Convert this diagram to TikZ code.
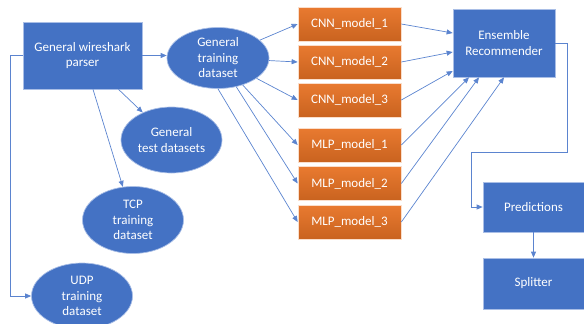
\documentclass[tikz,border=0pt]{standalone}
\usepackage{fontspec}
\setmainfont{Carlito}
\usetikzlibrary{arrows.meta,shapes.geometric}
\definecolor{bl}{HTML}{4472C4}
\definecolor{blline}{HTML}{5B84CF}
\definecolor{blborder}{HTML}{A9BEE6}
\definecolor{orL}{HTML}{E97A30}
\definecolor{orD}{HTML}{C9631F}
\tikzset{
  lbl/.style={text=white, align=center, font=\fontsize{13}{15.5}\selectfont, inner sep=0pt},
  bbox/.style={lbl, rectangle, fill=bl, draw=blborder, line width=0.7pt},
  ell/.style={lbl, ellipse, fill=bl, draw=blborder, line width=0.7pt},
  obox/.style={lbl, rectangle, top color=orL, bottom color=orD, draw=white!75!orL, line width=0.7pt,
    minimum width=103pt, minimum height=34pt},
  conn/.style={draw=blline, line width=0.7pt, -{Triangle[length=6pt,width=5pt]}}
}
\begin{document}
\begin{tikzpicture}[x=1pt,y=-1pt]
\useasboundingbox (0,0) rectangle (584,324);
\node[bbox, minimum width=119pt, minimum height=67pt] (parser) at (82.5,55.5) {General wireshark\\parser};
\node[ell, minimum width=102pt, minimum height=61pt] (gtrain) at (218,58) {General\\training\\dataset};
\node[ell, minimum width=101pt, minimum height=66pt] (gtest) at (171.5,140) {General\\test datasets};
\node[ell, minimum width=101pt, minimum height=67pt] (tcp) at (133,220) {TCP\\training\\dataset};
\node[ell, minimum width=101pt, minimum height=66pt] (udp) at (82,296) {UDP\\training\\dataset};
\node[obox] (cnn1) at (349.5,24) {CNN\_model\_1};
\node[obox] (cnn2) at (349.5,62) {CNN\_model\_2};
\node[obox] (cnn3) at (349.5,100) {CNN\_model\_3};
\node[obox] (mlp1) at (349.5,145) {MLP\_model\_1};
\node[obox] (mlp2) at (349.5,183.5) {MLP\_model\_2};
\node[obox] (mlp3) at (349.5,222) {MLP\_model\_3};
\node[bbox, minimum width=102pt, minimum height=68pt] (ens) at (504,43) {Ensemble\\Recommender};
\node[bbox, minimum width=101pt, minimum height=50pt] (pred) at (533.5,207) {Predictions};
\node[bbox, minimum width=101pt, minimum height=51pt] (split) at (533.5,283.5) {Splitter};
\coordinate (t1) at (567,152);
\coordinate (t2) at (471,152);
% parser outputs
\draw[conn] (parser.east) -- (parser.east -| gtrain.west);
\draw[conn] ([xshift=36pt]parser.south) -- (gtest);
\draw[conn] ([xshift=10.5pt]parser.south) -- (tcp);
\draw[conn] (parser.west) -- ++(-12,0) |- (udp.west);
% training dataset to models
\draw[conn] (gtrain) -- (cnn1.west);
\draw[conn] (gtrain) -- (cnn2.west);
\draw[conn] (gtrain) -- (cnn3.west);
\draw[conn] (gtrain) -- (mlp1.west);
\draw[conn] (gtrain) -- (mlp2.west);
\draw[conn] (gtrain.south) -- (mlp3.west);
% models to ensemble
\draw[conn] (cnn1.east) -- ([yshift=10pt]ens.west);
\draw[conn] (cnn2.east) -- ([yshift=-9pt]ens.west);
\draw[conn] (cnn3.east) -- ([yshift=-28pt]ens.west);
\draw[conn] (mlp1.east) -- ([xshift=-35pt]ens.south);
\draw[conn] (mlp2.east) -- ([xshift=-25pt]ens.south);
\draw[conn] (mlp3.east) -- (ens.south);
% ensemble to predictions to splitter
\draw[conn] (ens.east) -| (t1) -- (t2) |- (pred.west);
\draw[conn] (pred) -- (split);
\end{tikzpicture}
\end{document}
